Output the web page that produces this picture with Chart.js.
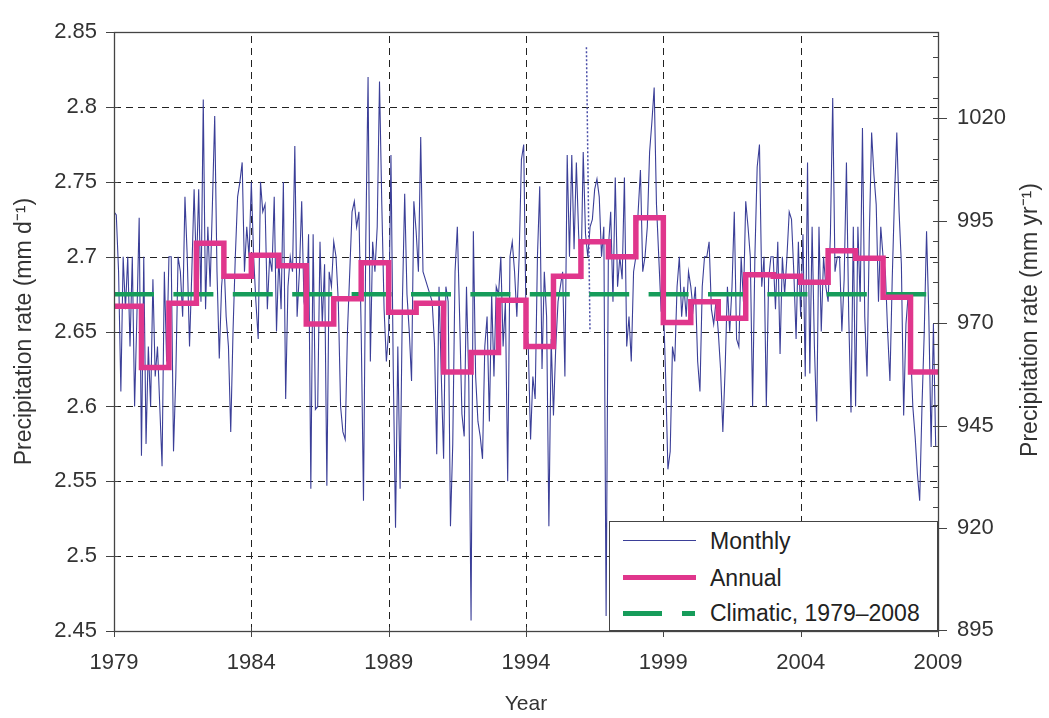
<!DOCTYPE html>
<html>
<head>
<meta charset="utf-8">
<script src="https://cdn.jsdelivr.net/npm/chart.js@4.4.1/dist/chart.umd.min.js"></script>
<style>
  body { margin: 0; background: #fff; }
  #wrap { position: relative; width: 1049px; height: 718px; }
  #legend {
    position: absolute; left: 609px; top: 521px; width: 329px; height: 110px;
    box-sizing: border-box; border: 1px solid #444; background: #fff;
    font-family: "Liberation Sans", Arial, sans-serif; font-size: 23px; color: #222;
  }
  .row { position: absolute; left: 0; height: 26px; line-height: 26px; }
  .row span { position: absolute; left: 100px; white-space: nowrap; }
  .sample { position: absolute; }
</style>
</head>
<body>
<div id="wrap">
  <canvas id="canvas" width="1049" height="718"></canvas>
  <div id="legend">
    <div class="row" style="top:6px">
      <div class="sample" style="left:13px; top:12px; width:73px; height:1px; background:#3b3f98"></div>
      <span>Monthly</span>
    </div>
    <div class="row" style="top:43px">
      <div class="sample" style="left:13px; top:10px; width:73px; height:5px; background:#e0368c"></div>
      <span>Annual</span>
    </div>
    <div class="row" style="top:78px">
      <div class="sample" style="left:13px; top:11px; width:39px; height:5px; background:#169c5a"></div>
      <div class="sample" style="left:72px; top:11px; width:13px; height:5px; background:#169c5a"></div>
      <span>Climatic, 1979–2008</span>
    </div>
  </div>
</div>
<script>
const years = [1979, 1980, 1981, 1982, 1983, 1984, 1985, 1986, 1987, 1988,
               1989, 1990, 1991, 1992, 1993, 1994, 1995, 1996, 1997, 1998,
               1999, 2000, 2001, 2002, 2003, 2004, 2005, 2006, 2007, 2008];

// annual means, mm/day
const annualRate = [2.667, 2.626, 2.669, 2.709, 2.687, 2.701, 2.694, 2.655, 2.672, 2.696,
                    2.663, 2.669, 2.623, 2.636, 2.671, 2.640, 2.687, 2.710, 2.700, 2.726,
                    2.656, 2.670, 2.659, 2.688, 2.687, 2.683, 2.704, 2.699, 2.673, 2.623];

const climaticRate = 2.675;

// monthly values, 12 per year
const monthlyRate = [
  2.730, 2.728, 2.690, 2.610, 2.700, 2.665, 2.700, 2.640, 2.700, 2.600, 2.660, 2.726, // 1979
  2.567, 2.700, 2.575, 2.640, 2.600, 2.685, 2.620, 2.640, 2.600, 2.560, 2.690, 2.630, // 1980
  2.700, 2.700, 2.570, 2.620, 2.700, 2.690, 2.660, 2.740, 2.700, 2.640, 2.690, 2.745, // 1981
  2.690, 2.745, 2.670, 2.805, 2.665, 2.720, 2.680, 2.735, 2.794, 2.690, 2.632, 2.680, // 1982
  2.700, 2.660, 2.640, 2.583, 2.650, 2.700, 2.740, 2.750, 2.763, 2.690, 2.720, 2.700, // 1983
  2.750, 2.700, 2.670, 2.645, 2.750, 2.730, 2.735, 2.665, 2.700, 2.690, 2.740, 2.650, // 1984
  2.700, 2.665, 2.750, 2.605, 2.680, 2.700, 2.690, 2.774, 2.660, 2.690, 2.737, 2.670, // 1985
  2.660, 2.715, 2.545, 2.715, 2.598, 2.600, 2.710, 2.655, 2.695, 2.547, 2.690, 2.680, // 1986
  2.710, 2.700, 2.670, 2.600, 2.583, 2.578, 2.650, 2.690, 2.730, 2.737, 2.720, 2.730, // 1987
  2.650, 2.537, 2.710, 2.820, 2.630, 2.710, 2.690, 2.720, 2.817, 2.735, 2.665, 2.630, // 1988
  2.650, 2.768, 2.625, 2.519, 2.640, 2.545, 2.670, 2.742, 2.675, 2.650, 2.617, 2.737, // 1989
  2.717, 2.690, 2.780, 2.690, 2.685, 2.680, 2.675, 2.670, 2.642, 2.568, 2.680, 2.620, // 1990
  2.565, 2.680, 2.670, 2.520, 2.575, 2.690, 2.720, 2.660, 2.595, 2.580, 2.680, 2.617, // 1991
  2.457, 2.717, 2.620, 2.590, 2.580, 2.565, 2.640, 2.660, 2.590, 2.675, 2.620, 2.680, // 1992
  2.675, 2.700, 2.640, 2.670, 2.550, 2.700, 2.710, 2.690, 2.660, 2.700, 2.765, 2.775, // 1993
  2.660, 2.640, 2.578, 2.620, 2.605, 2.700, 2.747, 2.625, 2.690, 2.660, 2.520, 2.645, // 1994
  2.594, 2.640, 2.670, 2.680, 2.690, 2.620, 2.768, 2.700, 2.768, 2.705, 2.763, 2.715, // 1995
  2.685, 2.770, 2.715, 2.700, 2.720, 2.725, 2.745, 2.752, 2.740, 2.700, 2.720, 2.460, // 1996
  2.706, 2.730, 2.670, 2.753, 2.680, 2.700, 2.685, 2.753, 2.640, 2.660, 2.630, 2.690, // 1997
  2.700, 2.730, 2.758, 2.690, 2.700, 2.720, 2.770, 2.790, 2.813, 2.735, 2.700, 2.665, // 1998
  2.670, 2.620, 2.558, 2.570, 2.640, 2.630, 2.680, 2.700, 2.660, 2.680, 2.660, 2.690, // 1999
  2.680, 2.665, 2.680, 2.630, 2.610, 2.680, 2.700, 2.700, 2.710, 2.665, 2.655, 2.670, // 2000
  2.650, 2.625, 2.583, 2.625, 2.680, 2.650, 2.680, 2.730, 2.645, 2.640, 2.700, 2.670, // 2001
  2.737, 2.720, 2.700, 2.600, 2.700, 2.760, 2.775, 2.680, 2.700, 2.600, 2.685, 2.700, // 2002
  2.700, 2.665, 2.710, 2.635, 2.700, 2.675, 2.700, 2.730, 2.725, 2.690, 2.645, 2.710, // 2003
  2.660, 2.715, 2.620, 2.763, 2.622, 2.720, 2.640, 2.590, 2.720, 2.650, 2.700, 2.680, // 2004
  2.670, 2.715, 2.806, 2.690, 2.700, 2.700, 2.650, 2.685, 2.763, 2.660, 2.596, 2.720, // 2005
  2.600, 2.720, 2.670, 2.786, 2.660, 2.620, 2.715, 2.783, 2.755, 2.735, 2.670, 2.720, // 2006
  2.700, 2.690, 2.650, 2.617, 2.685, 2.740, 2.783, 2.730, 2.695, 2.594, 2.655, 2.675, // 2007
  2.640, 2.600, 2.580, 2.555, 2.537, 2.600, 2.650, 2.717, 2.660, 2.573, 2.655, 2.573  // 2008
];

// the dotted spike in 1996
const spikeYears = [1996.2, 1996.33];
const spikeRate = [2.84, 2.65];

const xTicks = [1979, 1984, 1989, 1994, 1999, 2004, 2009];
const leftTicks = [2.45, 2.5, 2.55, 2.6, 2.65, 2.7, 2.75, 2.8, 2.85];
const rightTicks = [895, 920, 945, 970, 995, 1020];

const DAYS = 365.25;
const fontFamily = '"Liberation Sans", Arial, sans-serif';
const textColor = '#333';

const monthlyPoints = monthlyRate.map((v, i) => ({x: years[Math.floor(i / 12)] + (i % 12) / 12, y: v}));
const annualPoints = years.map((yr, i) => ({x: yr, y: annualRate[i]}));
annualPoints.push({x: years[years.length - 1] + 1, y: annualRate[annualRate.length - 1]});
const climaticPoints = [{x: years[0], y: climaticRate}, {x: years[years.length - 1] + 1, y: climaticRate}];
const spikePoints = spikeYears.map((x, i) => ({x: x, y: spikeRate[i]}));

// minor ticks on the right axis every 5 mm/yr
const rightMinor = [];
for (let v = rightTicks[0]; v <= 2.85 * DAYS; v += 5) rightMinor.push(v);

// dashed grid, frame, tick marks and right title
const framePlugin = {
  id: 'frame',
  beforeDatasetsDraw(chart) {
    const {ctx, chartArea: a, scales} = chart;
    ctx.save();
    ctx.strokeStyle = '#222';
    ctx.lineWidth = 1;
    ctx.setLineDash([7, 5]);
    xTicks.forEach(t => {
      const px = Math.round(scales.x.getPixelForValue(t)) + 0.5;
      ctx.beginPath(); ctx.moveTo(px, a.bottom); ctx.lineTo(px, a.top); ctx.stroke();
    });
    leftTicks.forEach(t => {
      const py = Math.round(scales.y.getPixelForValue(t)) + 0.5;
      ctx.beginPath(); ctx.moveTo(a.left, py); ctx.lineTo(a.right, py); ctx.stroke();
    });
    ctx.restore();
  },
  afterDatasetsDraw(chart) {
    const {ctx, chartArea: a, scales} = chart;
    ctx.save();
    ctx.strokeStyle = '#444';
    ctx.lineWidth = 1.3;
    ctx.setLineDash([]);
    ctx.strokeRect(Math.round(a.left) + 0.5, Math.round(a.top) + 0.5,
                   Math.round(a.right - a.left), Math.round(a.bottom - a.top));
    ctx.lineWidth = 1;
    ctx.beginPath();
    xTicks.forEach(t => {
      const px = Math.round(scales.x.getPixelForValue(t)) + 0.5;
      ctx.moveTo(px, a.bottom - 4); ctx.lineTo(px, a.bottom + 6);
    });
    leftTicks.forEach(t => {
      const py = Math.round(scales.y.getPixelForValue(t)) + 0.5;
      ctx.moveTo(a.left - 8, py); ctx.lineTo(a.left + 4, py);
    });
    rightMinor.forEach(t => {
      const py = Math.round(scales.y2.getPixelForValue(t)) + 0.5;
      const major = rightTicks.includes(t);
      ctx.moveTo(a.right - 5, py); ctx.lineTo(a.right + (major ? 9 : 0), py);
    });
    ctx.stroke();
    ctx.restore();

    ctx.save();
    ctx.fillStyle = textColor;
    ctx.font = '23px ' + fontFamily;
    ctx.textAlign = 'center';
    ctx.textBaseline = 'middle';
    ctx.translate(1031, 320);
    ctx.rotate(-Math.PI / 2);
    ctx.fillText('Precipitation rate (mm yr\u207B\u00B9)', 0, 0);
    ctx.restore();
  }
};

const tickFont = {family: fontFamily, size: 22};
const titleFont = {family: fontFamily, size: 23};

new Chart(document.getElementById('canvas'), {
  type: 'line',
  data: {
    datasets: [
      {label: 'Annual', data: annualPoints, borderColor: '#e0368c', borderWidth: 5.5,
       stepped: 'before', pointRadius: 0, fill: false},
      {label: 'Climatic, 1979–2008', data: climaticPoints, borderColor: '#169c5a', borderWidth: 4.5,
       borderDash: [40, 19.4], pointRadius: 0, fill: false},
      {label: 'spike', data: spikePoints, borderColor: '#4a4ea8', borderWidth: 1.5,
       borderDash: [2, 2], pointRadius: 0, fill: false},
      {label: 'Monthly', data: monthlyPoints, borderColor: '#3b3f98', borderWidth: 1.1,
       pointRadius: 0, fill: false, tension: 0}
    ]
  },
  options: {
    responsive: false,
    animation: false,
    devicePixelRatio: 1,
    layout: {padding: {top: 20, left: 0, right: 0, bottom: 0}},
    plugins: {legend: {display: false}, tooltip: {enabled: false}},
    scales: {
      x: {
        type: 'linear', min: 1979, max: 2009,
        afterFit(s) { s.height = 87; },
        afterBuildTicks(s) { s.ticks = xTicks.map(v => ({value: v})); },
        grid: {display: false, drawTicks: false},
        border: {display: false},
        ticks: {font: tickFont, color: textColor, padding: 19, maxRotation: 0, autoSkip: false,
                callback: v => String(v)},
        title: {display: true, text: 'Year', font: {family: fontFamily, size: 21}, color: textColor,
                padding: {top: 0, bottom: 1}}
      },
      y: {
        type: 'linear', position: 'left', min: 2.45, max: 2.85,
        afterFit(s) { s.width = 114; },
        afterBuildTicks(s) { s.ticks = leftTicks.map(v => ({value: v})); },
        grid: {display: false, drawTicks: false},
        border: {display: false},
        ticks: {font: tickFont, color: textColor, padding: 17, autoSkip: false,
                callback: v => String(+v.toFixed(2))},
        title: {display: true, text: 'Precipitation rate (mm d\u207B\u00B9)', font: titleFont, color: textColor,
                padding: {top: 11, bottom: 0}}
      },
      y2: {
        type: 'linear', position: 'right', min: 2.45 * DAYS, max: 2.85 * DAYS,
        afterFit(s) { s.width = 111; },
        afterBuildTicks(s) { s.ticks = rightTicks.map(v => ({value: v})); },
        grid: {display: false, drawTicks: false},
        border: {display: false},
        ticks: {font: tickFont, color: textColor, padding: 19, autoSkip: false,
                callback: v => String(v)}
      }
    }
  },
  plugins: [framePlugin]
});
</script>
</body>
</html>
